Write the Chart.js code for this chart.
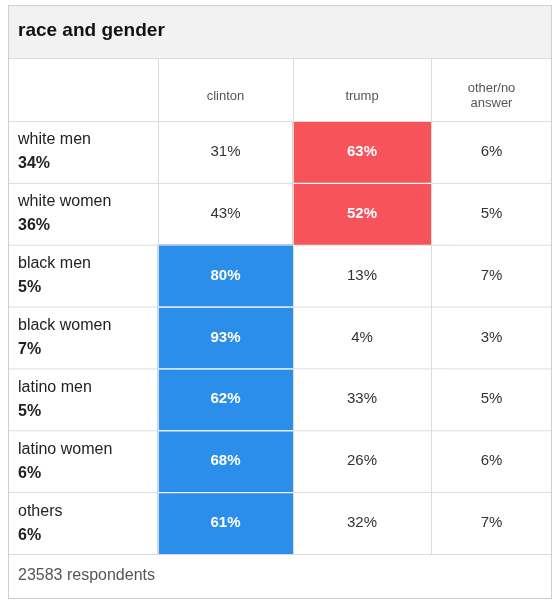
<!DOCTYPE html>
<html><head><meta charset="utf-8">
<script src="https://cdn.jsdelivr.net/npm/chart.js@4"></script>
<style>html,body{margin:0;padding:0;background:#fff}#w{width:552px;height:600px}</style>
</head><body><div id="w"><canvas id="c"></canvas></div>
<script>
const title = "race and gender";
const footer = "23583 respondents";
const groups = ["white men","white women","black men","black women","latino men","latino women","others"];
const shares = [34,36,5,7,5,6,6];
const candidates = ["clinton","trump","other/no\nanswer"];
const clinton = [31,43,80,93,62,68,61];
const trump = [63,52,13,4,33,26,32];
const other = [6,5,7,3,5,6,7];
const series = [clinton, trump, other];
const colBounds = [0,150,285,423,544];
const winColors = ["#2a8eea","#f6545a","#999"];
const FONT = "'Liberation Sans', Arial, sans-serif";

const datasets = series.map((vals, ci) => ({
  label: candidates[ci],
  data: vals.map(() => [colBounds[ci+1], colBounds[ci+2]]),
  backgroundColor: vals.map((v, ri) => {
    const mx = Math.max(clinton[ri], trump[ri], other[ri]);
    return v === mx ? winColors[ci] : "rgba(0,0,0,0)";
  }),
  borderColor: "#fff", borderWidth: 0,
  grouped: false, barPercentage: 1, categoryPercentage: 1
}));

const tablePlugin = {
  id: "table",
  afterDatasetsDraw(chart) {
    const ctx = chart.ctx, xs = chart.scales.x, ys = chart.scales.y;
    const L = xs.getPixelForValue(0), R = xs.getPixelForValue(544);
    const top = ys.top, bottom = ys.bottom, rh = (bottom - top) / groups.length;
    ctx.save();
    // title band
    ctx.fillStyle = "#f2f2f2"; ctx.fillRect(L, 5, R - L, 53);
    ctx.fillStyle = "#111"; ctx.font = "bold 19px " + FONT; ctx.textBaseline = "middle";
    ctx.textAlign = "left"; ctx.fillText(title, 18, 31);
    // grid lines
    ctx.strokeStyle = "#dcdcdc"; ctx.lineWidth = 1;
    const hl = (y) => { ctx.beginPath(); ctx.moveTo(L, y + .5); ctx.lineTo(R, y + .5); ctx.stroke(); };
    hl(58); hl(top);
    for (let i = 1; i <= groups.length; i++) hl(top + rh * i);
    for (let c = 1; c < colBounds.length - 1; c++) {
      const x = Math.round(xs.getPixelForValue(colBounds[c])) + .5;
      ctx.beginPath(); ctx.moveTo(x, 58); ctx.lineTo(x, bottom); ctx.stroke();
    }
    ctx.strokeStyle = "#cfcfcf"; ctx.strokeRect(L + .5, 5.5, R - L - 1, 593);
    // header
    ctx.fillStyle = "#555"; ctx.font = "13px " + FONT; ctx.textAlign = "center";
    candidates.forEach((c, ci) => {
      const cx = (xs.getPixelForValue(colBounds[ci+1]) + xs.getPixelForValue(colBounds[ci+2])) / 2;
      const lines = c.split("\n");
      lines.forEach((ln, k) => ctx.fillText(ln, cx, 96 + (k - (lines.length - 1) / 2) * 15));
    });
    // rows
    groups.forEach((g, ri) => {
      const y0 = top + rh * ri;
      ctx.textAlign = "left"; ctx.fillStyle = "#222";
      ctx.font = "16px " + FONT; ctx.fillText(g, 18, y0 + 19);
      ctx.font = "bold 16px " + FONT; ctx.fillText(shares[ri] + "%", 18, y0 + 43);
      const mx = Math.max(clinton[ri], trump[ri], other[ri]);
      series.forEach((vals, ci) => {
        const cx = (xs.getPixelForValue(colBounds[ci+1]) + xs.getPixelForValue(colBounds[ci+2])) / 2;
        ctx.textAlign = "center";
        if (vals[ri] === mx) { ctx.fillStyle = "#fff"; ctx.font = "bold 15px " + FONT; }
        else { ctx.fillStyle = "#333"; ctx.font = "15px " + FONT; }
        ctx.fillText(vals[ri] + "%", cx, y0 + rh / 2);
      });
      // white separators between highlighted cells
      ctx.strokeStyle = "#fff";
      if (ri > 0) {
        series.forEach((vals, ci) => {
          const pm = Math.max(clinton[ri-1], trump[ri-1], other[ri-1]);
          if (vals[ri] === mx && series[ci][ri-1] === pm) {
            ctx.beginPath();
            ctx.moveTo(xs.getPixelForValue(colBounds[ci+1]) + 1, y0 + .5);
            ctx.lineTo(xs.getPixelForValue(colBounds[ci+2]), y0 + .5); ctx.stroke();
          }
        });
      }
    });
    // footer
    ctx.textAlign = "left"; ctx.fillStyle = "#555"; ctx.font = "16px " + FONT;
    ctx.fillText(footer, 18, (bottom + 598) / 2);
    ctx.restore();
  }
};

new Chart(document.getElementById("c"), {
  type: "bar",
  data: { labels: groups, datasets },
  options: {
    indexAxis: "y", responsive: true, maintainAspectRatio: false, animation: false,
    layout: { padding: { top: 121, bottom: 46, left: 8, right: 0 } },
    plugins: { legend: { display: false }, tooltip: { enabled: false } },
    scales: {
      x: { type: "linear", min: 0, max: 544, display: false },
      y: { type: "category", display: false }
    }
  },
  plugins: [tablePlugin]
});
</script></body></html>
